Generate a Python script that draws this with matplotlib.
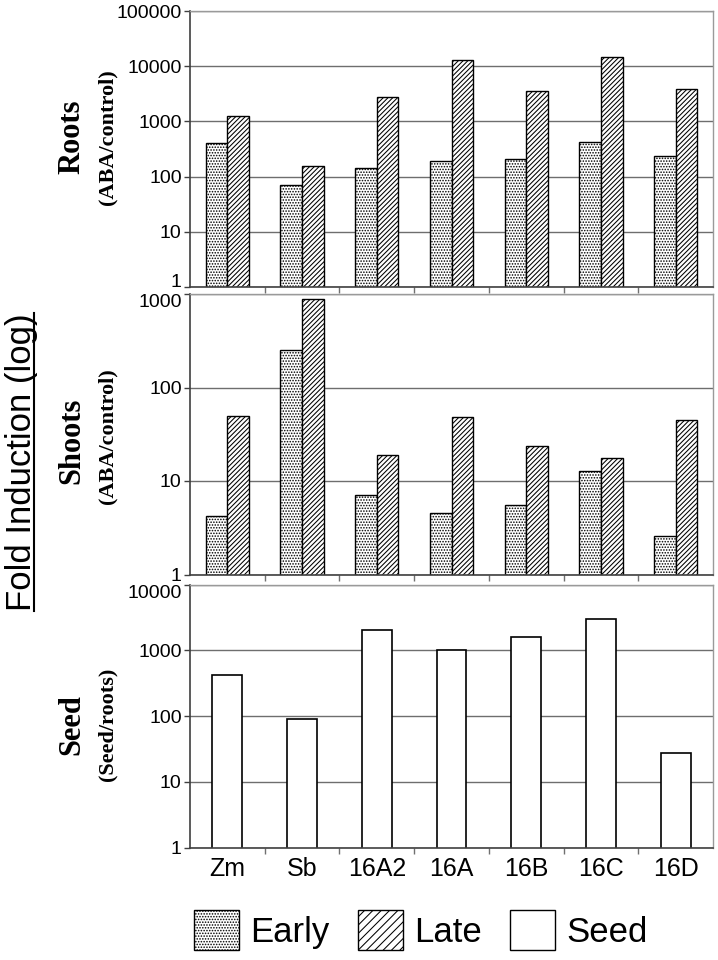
import matplotlib
matplotlib.use('Agg')
import matplotlib.pyplot as plt
import numpy as np
from matplotlib.ticker import FixedLocator, FixedFormatter, NullLocator
from matplotlib.lines import Line2D
from matplotlib.patches import Patch

# ---------------- data ----------------
categories = ['Zm', 'Sb', '16A2', '16A', '16B', '16C', '16D']
roots_early = [400, 70, 145, 192, 208, 424, 233]
roots_late = [1270, 156, 2770, 12800, 3500, 14900, 3900]
shoots_early = [4.2, 253, 7.0, 4.6, 5.5, 12.8, 2.6]
shoots_late = [49, 890, 18.8, 48, 23.7, 17.5, 45]
seed_ratio = [420, 91, 2040, 1000, 1600, 3030, 28]

roots_ticks = [1, 10, 100, 1000, 10000, 100000]
shoots_ticks = [1, 10, 100, 1000]
seed_ticks = [1, 10, 100, 1000, 10000]

panel_titles = ['Roots', 'Shoots', 'Seed']
panel_subtitles = ['(ABA/control)', '(ABA/control)', '(Seed/roots)']
legend_labels = ['Early', 'Late', 'Seed']
big_label = 'Fold Induction (log)'

# ---------------- style ----------------
plt.rcParams['hatch.linewidth'] = 0.75
SANS = 'Liberation Sans'
SERIF = 'Liberation Serif'
H_EARLY = '......'
H_LATE = '///////'

fig = plt.figure(figsize=(7.18, 9.6), dpi=100)

left = 190 / 718
width = (713 - 190) / 718
def pos(top_px, bot_px):
    return [left, 1 - bot_px / 960, width, (bot_px - top_px) / 960]

ax1 = fig.add_axes(pos(11, 287))
ax2 = fig.add_axes(pos(294, 574.5))
ax3 = fig.add_axes(pos(584.7, 847.7))

x = np.arange(len(categories))
bw = 0.29

def style_axis(ax, ticks, show_xlabels):
    ax.set_yscale('log')
    ax.set_ylim(ticks[0], ticks[-1])
    ax.set_xlim(-0.5, len(categories) - 0.5)
    ax.yaxis.set_major_locator(FixedLocator(ticks))
    ax.yaxis.set_major_formatter(FixedFormatter([str(t) for t in ticks]))
    ax.yaxis.set_minor_locator(NullLocator())
    ax.yaxis.grid(True, color='#6e6e6e', linewidth=1.0)
    ax.set_axisbelow(True)
    ax.tick_params(axis='y', which='major', direction='out', length=4, width=1,
                   color='#404040', pad=2, labelsize=14)
    for lab in ax.get_yticklabels():
        lab.set_fontfamily(SANS)
    ax.xaxis.set_major_locator(FixedLocator(x))
    ax.xaxis.set_minor_locator(FixedLocator(x[:-1] + 0.5))
    ax.tick_params(axis='x', which='major', length=0, pad=7)
    ax.tick_params(axis='x', which='minor', direction='out', length=4, width=1,
                   color='#707070')
    if show_xlabels:
        ax.set_xticklabels(categories, fontsize=18, fontfamily=SANS)
    else:
        ax.set_xticklabels([])
    for s in ['left', 'bottom']:
        ax.spines[s].set_color('#404040')
        ax.spines[s].set_linewidth(1.2)
    for s in ['top', 'right']:
        ax.spines[s].set_color('#9a9a9a')
        ax.spines[s].set_linewidth(1.0)

ax1.bar(x - bw / 2, roots_early, bw, facecolor='white', edgecolor='black',
        hatch=H_EARLY, linewidth=1.0)
ax1.bar(x + bw / 2, roots_late, bw, facecolor='white', edgecolor='black',
        hatch=H_LATE, linewidth=1.0)
style_axis(ax1, roots_ticks, False)

ax2.bar(x - bw / 2, shoots_early, bw, facecolor='white', edgecolor='black',
        hatch=H_EARLY, linewidth=1.0)
ax2.bar(x + bw / 2, shoots_late, bw, facecolor='white', edgecolor='black',
        hatch=H_LATE, linewidth=1.0)
style_axis(ax2, shoots_ticks, False)

ax3.bar(x, seed_ratio, 0.40, facecolor='white', edgecolor='black', linewidth=1.2)
style_axis(ax3, seed_ticks, True)

# nudge the labels at the panel joins so they don't collide
ax1.get_yticklabels()[0].set_va('baseline')
ax2.get_yticklabels()[-1].set_va('top')
ax3.get_yticklabels()[-1].set_va('top')

# ---------------- panel labels ----------------
title_pos = [(72, 137), (72, 441), (72, 725)]
sub_pos = [(107, 137), (107, 436), (107, 724)]
for t, s, tp, sp in zip(panel_titles, panel_subtitles, title_pos, sub_pos):
    fig.text(tp[0] / 718, 1 - tp[1] / 960, t, rotation=90, ha='center', va='center',
             fontfamily=SERIF, fontweight='bold', fontsize=22)
    fig.text(sp[0] / 718, 1 - sp[1] / 960, s, rotation=90, ha='center', va='center',
             fontfamily=SERIF, fontweight='bold', fontsize=16)

big = fig.text(22 / 718, 1 - 462 / 960, big_label, rotation=90, ha='center',
               va='center', fontfamily=SANS, fontsize=25)

# underline for the big label
fig.canvas.draw()
bb = big.get_window_extent(renderer=fig.canvas.get_renderer())
ux = (bb.x1 - 4.5) / fig.bbox.width
fig.add_artist(Line2D([ux, ux], [bb.y0 / fig.bbox.height, bb.y1 / fig.bbox.height],
                      transform=fig.transFigure, color='black', linewidth=1.5))

# ---------------- legend ----------------
handles = [
    Patch(facecolor='white', edgecolor='black', hatch=H_EARLY, label=legend_labels[0]),
    Patch(facecolor='white', edgecolor='black', hatch='////', label=legend_labels[1]),
    Patch(facecolor='white', edgecolor='black', label=legend_labels[2]),
]
fig.legend(handles=handles, loc='center', bbox_to_anchor=(0.586, 0.031), ncol=3,
           frameon=False, prop={'family': SANS, 'size': 25}, handlelength=1.3,
           handleheight=1.4, handletextpad=0.33, columnspacing=0.8)

fig.savefig('out.png', dpi=100)
